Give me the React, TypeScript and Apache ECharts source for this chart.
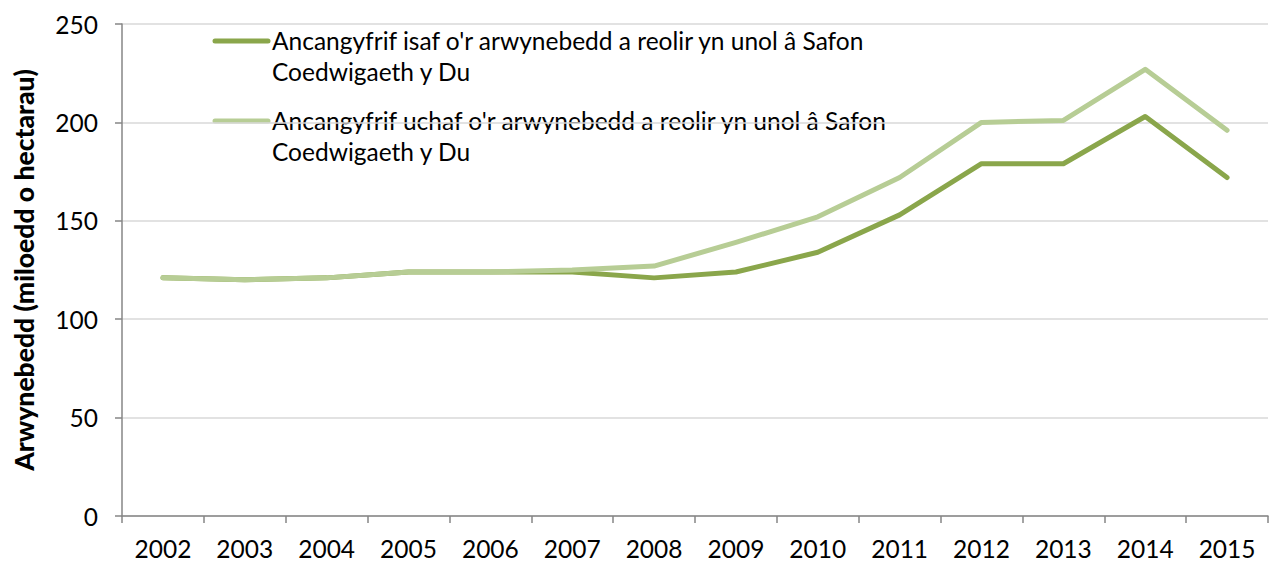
import React, { useEffect, useRef } from "react";
import * as echarts from "echarts";

const years = ["2002", "2003", "2004", "2005", "2006", "2007", "2008", "2009", "2010", "2011", "2012", "2013", "2014", "2015"];
const lowerEstimate = [121, 120, 121, 124, 124, 124, 121, 124, 134, 153, 179, 179, 203, 172];
const upperEstimate = [121, 120, 121, 124, 124, 125, 127, 139, 152, 172, 200, 201, 227, 196];
const lowerName = "Ancangyfrif isaf o'r arwynebedd a reolir yn unol â Safon\nCoedwigaeth y Du";
const upperName = "Ancangyfrif uchaf o'r arwynebedd a reolir yn unol â Safon\nCoedwigaeth y Du";
const yAxisName = "Arwynebedd (miloedd o hectarau)";

const DARK = "#8AA64B";
const LIGHT = "#B7CD95";
const FONT = "Lato, 'Noto Sans', sans-serif";

export default function App() {
  const ref = useRef<HTMLDivElement>(null);
  useEffect(() => {
    if (!ref.current) return;
    const chart = echarts.init(ref.current, undefined, { renderer: "svg" });
    chart.setOption({
      animation: false,
      textStyle: { fontFamily: FONT },
      grid: { left: 122, right: 1, top: 24, bottom: 47 },
      xAxis: {
        type: "category",
        data: years,
        boundaryGap: true,
        axisLine: { lineStyle: { color: "#868686", width: 1.5 } },
        axisTick: { show: true, interval: 0, length: 7, lineStyle: { color: "#868686", width: 1.5 } },
        axisLabel: { color: "#000", fontSize: 24.5, margin: 20, fontFamily: FONT, interval: 0 },
      },
      yAxis: {
        type: "value",
        min: 0,
        max: 250,
        interval: 50,
        name: yAxisName,
        nameLocation: "middle",
        nameGap: 85,
        nameTextStyle: { color: "#000", fontSize: 26.5, fontWeight: 900, fontFamily: FONT },
        axisLine: { show: true, lineStyle: { color: "#868686", width: 1.5 } },
        axisTick: { show: true, length: 7, lineStyle: { color: "#868686", width: 1.5 } },
        axisLabel: { color: "#000", fontSize: 24.5, margin: 24, fontFamily: FONT },
        splitLine: { lineStyle: { color: "#D9D9D9", width: 1.5 } },
      },
      series: [
        {
          name: lowerName,
          type: "line",
          data: lowerEstimate,
          symbol: "none",
          lineStyle: { color: DARK, width: 5, cap: "round", join: "round" },
          itemStyle: { color: DARK },
        },
        {
          name: upperName,
          type: "line",
          data: upperEstimate,
          symbol: "none",
          lineStyle: { color: LIGHT, width: 5, cap: "round", join: "round" },
          itemStyle: { color: LIGHT },
        },
      ],
      graphic: [
        {
          type: "line",
          shape: { x1: 215, y1: 41, x2: 268, y2: 41 },
          style: { stroke: DARK, lineWidth: 5, lineCap: "round" },
        },
        {
          type: "text",
          x: 272,
          y: 25,
          style: { text: lowerName, fill: "#000", font: `24.5px ${FONT}`, lineHeight: 31 },
        },
        {
          type: "line",
          shape: { x1: 215, y1: 121, x2: 268, y2: 121 },
          style: { stroke: LIGHT, lineWidth: 5, lineCap: "round" },
        },
        {
          type: "text",
          x: 272,
          y: 105,
          style: { text: upperName, fill: "#000", font: `24.5px ${FONT}`, lineHeight: 31 },
        },
      ],
    });
    return () => chart.dispose();
  }, []);
  return <div ref={ref} style={{ position: "fixed", left: 0, top: 0, width: 1269, height: 563, background: "#fff" }} />;
}
